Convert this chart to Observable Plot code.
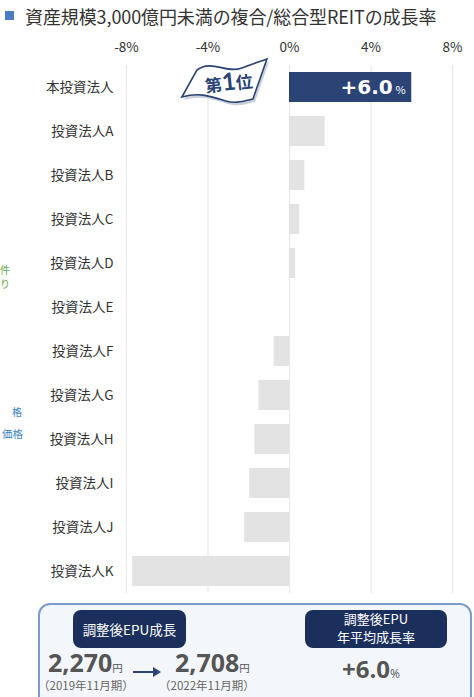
<!DOCTYPE html>
<html><head><meta charset="utf-8">
<script src="https://cdn.jsdelivr.net/npm/d3@7"></script>
<script src="https://cdn.jsdelivr.net/npm/@observablehq/plot@0.6"></script>
<style>
body{margin:0;background:#fff;font-family:"Noto Sans CJK JP","Noto Sans",sans-serif;}
#wrap{position:relative;width:474px;height:697px;overflow:hidden;background:#fff;}
.abs{position:absolute;white-space:nowrap;}
</style></head>
<body><div id="wrap"></div>
<script>
const titleText = "資産規模3,000億円未満の複合/総合型REITの成長率";
const names = ["本投資法人","投資法人A","投資法人B","投資法人C","投資法人D","投資法人E","投資法人F","投資法人G","投資法人H","投資法人I","投資法人J","投資法人K"];
const values = [6.0, 1.75, 0.75, 0.5, 0.3, 0, -0.75, -1.5, -1.7, -1.95, -2.2, -7.7];
const xTicks = [-8, -4, 0, 4, 8];
const topLabel = "+6.0";
const badge = ["第", "1", "位"];
const epuFrom = "2,270", epuTo = "2,708";
const periodFrom = "（2019年11月期）", periodTo = "（2022年11月期）";
const epuLabel = "調整後EPU成長";
const rateLabel = ["調整後EPU", "年平均成長率"];
const rateValue = "+6.0";
const greenFrag = ["件", "り"], blueFrag = ["格", "価格"];

const data = names.map((n, i) => ({name: n, value: values[i], top: i === 0}));
const wrap = document.getElementById("wrap");

// title
wrap.insertAdjacentHTML("beforeend",
  `<div class="abs" style="left:5px;top:11px;width:9px;height:9px;background:#4a7dc2"></div>
   <div class="abs" style="left:25px;top:3px;font-size:18px;color:#333;letter-spacing:-0.1px">${titleText}</div>`);

// fragments of a neighbouring panel at the left edge
wrap.insertAdjacentHTML("beforeend",
  `<div class="abs" style="left:0px;top:264px;font-size:10px;line-height:12px;color:#6aa84f">${greenFrag[0]}</div>
   <div class="abs" style="left:0px;top:278px;font-size:10px;line-height:12px;color:#6aa84f">${greenFrag[1]}</div>
   <div class="abs" style="left:12px;top:406px;font-size:10px;line-height:12px;color:#3d85c6">${blueFrag[0]}</div>
   <div class="abs" style="left:2px;top:428px;font-size:10.5px;line-height:12px;color:#3d85c6">${blueFrag[1]}</div>`);

const chart = Plot.plot({
  width: 474,
  height: 572,
  marginLeft: 126,
  marginRight: 22,
  marginTop: 35,
  marginBottom: 9,
  style: {fontFamily: "'Noto Sans CJK JP', 'Noto Sans', sans-serif", fontSize: "13.5px", color: "#333", background: "transparent"},
  x: {domain: [-8, 8], ticks: xTicks, tickFormat: d => `${d}%`, axis: "top", tickSize: 0, tickPadding: 14, label: null},
  y: {domain: names, paddingInner: 0.31, paddingOuter: 0.155, tickSize: 0, tickPadding: 13, label: null},
  marks: [
    Plot.ruleX(xTicks, {stroke: "#e8e8e8", strokeWidth: 1.2}),
    Plot.barX(data, {x: "value", y: "name", fill: d => d.top ? "#2b4475" : "#e3e3e3"}),
    Plot.text(data.filter(d => d.top), {x: "value", y: "name", text: () => topLabel, textAnchor: "end", dx: -19, fill: "white", fontSize: 20, fontWeight: "bold", fontFamily: "'DejaVu Sans', sans-serif"}),
    Plot.text(data.filter(d => d.top), {x: "value", y: "name", text: () => "%", textAnchor: "end", dx: -6, dy: 3, fill: "white", fontSize: 11})
  ]
});
chart.style.position = "absolute";
chart.style.left = "0px";
chart.style.top = "30px";
wrap.appendChild(chart);

// banner "第1位"
const xs = chart.scale("x"), ys = chart.scale("y");
const svg = d3.select(chart);
const cx = xs.apply(-2.9), cy = ys.apply(names[0]) + ys.bandwidth / 2 - 4;
const g = svg.append("g").attr("transform", `translate(${cx},${cy})`);
const path = "M-33,-13 C-18,-24 -4,-9 12,-15 C22,-19 29,-21 37,-24 L23,16 C14,18 6,21 -4,18 C-20,13 -31,9 -48,14 Z";
g.append("path").attr("d", path).attr("transform", "translate(2,3)").attr("fill", "#c9d0dc");
g.append("path").attr("d", path).attr("fill", "white").attr("stroke", "#2b4475").attr("stroke-width", 1.6);
const t = g.append("text").attr("text-anchor", "middle").attr("x", -1).attr("y", 7).attr("fill", "#2b4475").attr("font-weight", "bold").attr("transform", "rotate(-6)");
t.append("tspan").attr("font-size", 17).text(badge[0]);
t.append("tspan").attr("font-size", 24).attr("font-family", "Lato, sans-serif").text(badge[1]);
t.append("tspan").attr("font-size", 17).text(badge[2]);

// bottom box
wrap.insertAdjacentHTML("beforeend", `
<div class="abs" style="left:38px;top:603px;width:430px;height:110px;border:2px solid #7b9ccc;border-radius:12px;background:#f3f6fb"></div>
<div class="abs" style="left:73px;top:610px;width:113px;height:38px;border-radius:8px;background:#1b2f5c;color:#fff;font-size:13.5px;line-height:38px;text-align:center">${epuLabel}</div>
<div class="abs" style="left:305px;top:610px;width:142px;height:38px;border-radius:8px;background:#1b2f5c"></div>
<div class="abs" style="left:305px;top:611px;width:142px;color:#fff;font-size:13px;line-height:16px;text-align:center">${rateLabel[0]}</div>
<div class="abs" style="left:305px;top:629px;width:142px;color:#fff;font-size:13px;line-height:16px;text-align:center">${rateLabel[1]}</div>
<div class="abs" style="left:48px;top:645px;color:#555;font-weight:bold;font-size:25px;font-family:'Open Sans',sans-serif">${epuFrom}<span style="font-size:10.5px;font-weight:normal;font-family:'Noto Sans CJK JP'">円</span></div>
<div class="abs" style="left:38px;top:677px;color:#666;font-size:11.5px">${periodFrom}</div>
<div class="abs" style="left:175px;top:645px;color:#555;font-weight:bold;font-size:25px;font-family:'Open Sans',sans-serif">${epuTo}<span style="font-size:10.5px;font-weight:normal;font-family:'Noto Sans CJK JP'">円</span></div>
<div class="abs" style="left:159px;top:677px;color:#666;font-size:11.5px">${periodTo}</div>
<svg class="abs" style="left:132px;top:665px" width="30" height="14"><line x1="1" y1="7" x2="22" y2="7" stroke="#2b4475" stroke-width="2"/><path d="M21,2 L29,7 L21,12 Z" fill="#2b4475"/></svg>
<div class="abs" style="left:342px;top:652px;color:#555;font-weight:bold;font-size:24px;font-family:'Open Sans',sans-serif">${rateValue}<span style="font-size:12px;font-weight:normal">%</span></div>
`);
</script></body></html>
